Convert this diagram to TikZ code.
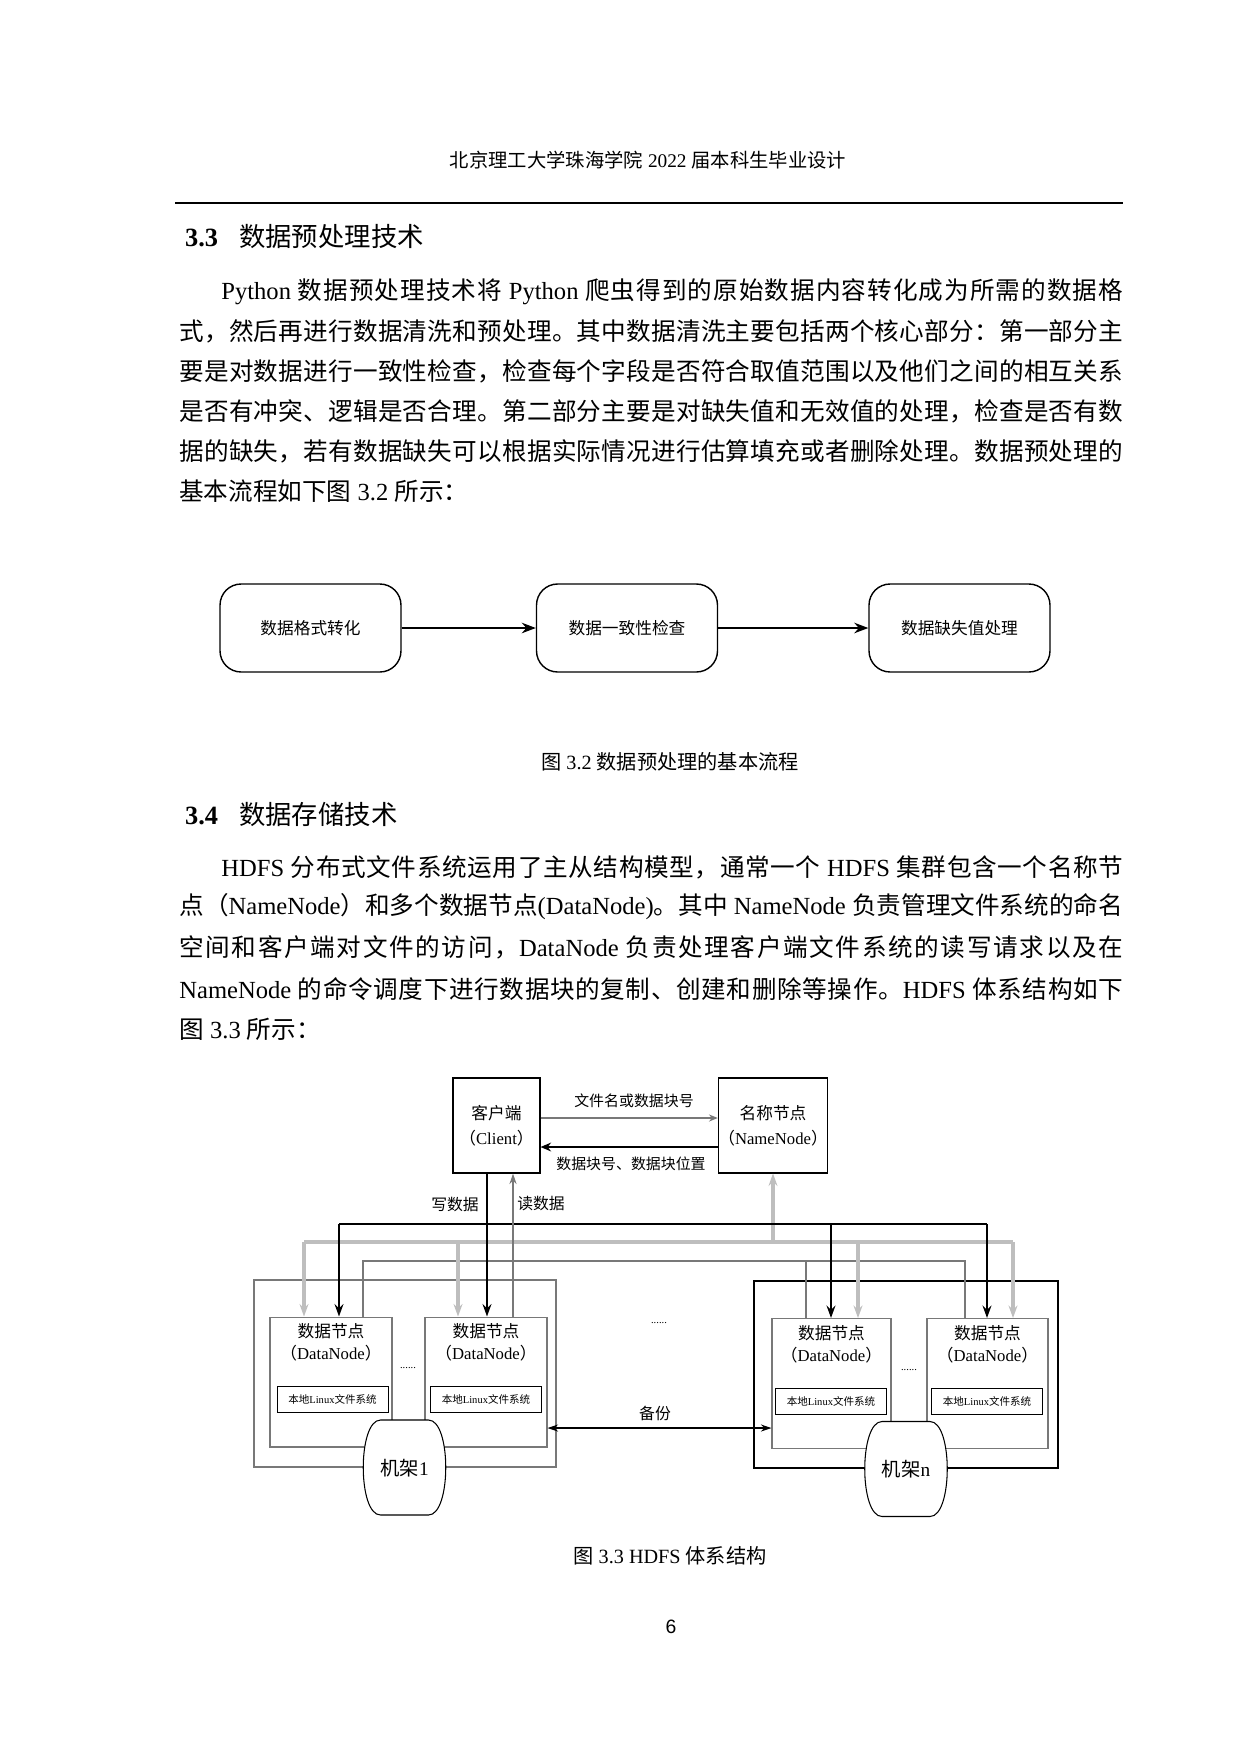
\documentclass[tikz,border=0pt]{standalone}
\usepackage{fontspec}
\setmainfont{Liberation Serif}
\newfontfamily\cjkfont{Noto Sans CJK SC}
\newfontfamily\latfont{Liberation Serif}
\newfontfamily\sansf{Liberation Sans}
\newXeTeXintercharclass\CJKcls
\count255="4E00
\loop \XeTeXcharclass\count255=\CJKcls \ifnum\count255<"9FFF \advance\count255 1 \repeat
\count255="3000
\loop \XeTeXcharclass\count255=\CJKcls \ifnum\count255<"303F \advance\count255 1 \repeat
\count255="FF00
\loop \XeTeXcharclass\count255=\CJKcls \ifnum\count255<"FFEF \advance\count255 1 \repeat
\XeTeXinterchartoks 0 \CJKcls={\cjkfont}
\XeTeXinterchartoks 4095 \CJKcls={\cjkfont}
\XeTeXinterchartoks \CJKcls 0={\latfont}
\XeTeXinterchartoks \CJKcls 4095={\latfont}
\XeTeXinterchartoks \CJKcls \CJKcls={\hskip0pt plus 3pt\relax}
\XeTeXinterchartokenstate=1
\usetikzlibrary{arrows.meta}
\newcommand\jline[1]{\hbox to 18.88cm{#1}}
\newcommand\jlinei[1]{\hbox to 18.04cm{#1}}
\newcommand\barrel[2]{% center x, center y
  \draw[fill=white,line width=0.6pt] (#1-24,#2-47.5) -- (#1+24,#2-47.5) .. controls (#1+47,#2-47.5) and (#1+47,#2+47.5) .. (#1+24,#2+47.5) -- (#1-24,#2+47.5) .. controls (#1-47,#2+47.5) and (#1-47,#2-47.5) .. (#1-24,#2-47.5) -- cycle;}
\definecolor{lg}{RGB}{190,190,190}
\definecolor{mg}{RGB}{120,120,120}
\tikzset{
 body/.style={anchor=west,inner sep=0pt,font=\fontsize{14}{16}\selectfont},
 fbox/.style={draw,rounded corners=12pt,line width=0.8pt,minimum width=3.62cm,minimum height=1.76cm,font=\fontsize{9.5}{11}\selectfont},
 box/.style={draw,line width=0.6pt,align=center,minimum height=1.9cm,font=\fontsize{9.5}{14}\selectfont,inner sep=0pt},
 dn/.style={draw=mg,line width=0.6pt,minimum height=2.6cm},
 lx/.style={draw,line width=0.5pt,minimum width=2.22cm,minimum height=0.52cm,font=\fontsize{6}{7}\selectfont,inner sep=0pt},
 dtxt/.style={align=center,font=\fontsize{9.5}{12.5}\selectfont,inner sep=0pt},
 lab/.style={font=\fontsize{8}{9}\selectfont,inner sep=0pt},
 blk/.style={line width=1.3pt,-{Stealth[length=7pt,width=5pt]}},
 gry/.style={lg,line width=1.8pt,-{Stealth[length=7pt,width=5pt]}},
}
\begin{document}
\begin{tikzpicture}[x=0.02cm,y=-0.02cm]
\useasboundingbox[fill=white] (0,0) rectangle (1240,1754);
% header
\node[font=\fontsize{11}{13}\selectfont] (hdr) at (648,160) {北京理工大学珠海学院 2022 届本科生毕业设计};
\draw[line width=0.6pt] (175,203) -- (1123,203);
\node[anchor=west,font=\fontsize{15}{17}\selectfont] (s33) at (179,237) {\textbf{3.3}\hskip 12pt 数据预处理技术};
\node[body] (p1) at (221,292) {\jlinei{Python 数据预处理技术将 Python 爬虫得到的原始数据内容转化成为所需的数据格}};
\node[body] (p2) at (179,331) {\jline{式，然后再进行数据清洗和预处理。其中数据清洗主要包括两个核心部分：第一部分主}};
\node[body] (p3) at (179,371) {\jline{要是对数据进行一致性检查，检查每个字段是否符合取值范围以及他们之间的相互关系}};
\node[body] (p4) at (179,411) {\jline{是否有冲突、逻辑是否合理。第二部分主要是对缺失值和无效值的处理，检查是否有数}};
\node[body] (p5) at (179,451) {\jline{据的缺失，若有数据缺失可以根据实际情况进行估算填充或者删除处理。数据预处理的}};
\node[body] (p6) at (179,491) {基本流程如下图 3.2 所示：};
% flowchart
\node[fbox] (f1) at (310.5,628) {数据格式转化};
\node[fbox] (f2) at (627,628) {数据一致性检查};
\node[fbox] (f3) at (959.5,628) {数据缺失值处理};
\draw[line width=0.9pt,-{Stealth[length=8pt,width=6pt]}] (f1) -- (f2);
\draw[line width=0.9pt,-{Stealth[length=8pt,width=6pt]}] (f2) -- (f3);
\node[font=\fontsize{11.5}{13}\selectfont] (c32) at (670,762) {图 3.2 数据预处理的基本流程};
\node[anchor=west,font=\fontsize{15}{17}\selectfont] (s34) at (179,814) {\textbf{3.4}\hskip 12pt 数据存储技术};
\node[body] (q1) at (221,867) {\jlinei{HDFS 分布式文件系统运用了主从结构模型，通常一个 HDFS 集群包含一个名称节}};
\node[body] (q2) at (179,907) {\jline{点（NameNode）和多个数据节点(DataNode)。其中 NameNode 负责管理文件系统的命名}};
\node[body] (q3) at (179,947) {\jline{空间和客户端对文件的访问，DataNode 负责处理客户端文件系统的读写请求以及在}};
\node[body] (q4) at (179,989) {\jline{NameNode 的命令调度下进行数据块的复制、创建和删除等操作。HDFS 体系结构如下}};
\node[body] (q5) at (179,1029) {图 3.3 所示：};
% HDFS diagram
\node[box,minimum width=1.74cm] (client) at (496.5,1125.5) {客户端\\（Client）};
\node[box,minimum width=2.08cm] (name) at (773,1125.5) {名称节点\\（NameNode）};
\coordinate (ya) at (0,1118);
\coordinate (yb) at (0,1147);
\draw[mg,line width=0.7pt,-{Stealth[length=5pt,width=4pt]}] (client.east |- ya) -- (name.west |- ya);
\draw[line width=1.1pt,-{Stealth[length=6pt,width=5pt]}] (name.west |- yb) -- (client.east |- yb);
\node[lab,font=\fontsize{8.5}{9}\selectfont] (la) at (634,1101) {文件名或数据块号};
\node[lab,font=\fontsize{8.5}{9}\selectfont] (lb) at (631,1164) {数据块号、数据块位置};
% racks
\draw[mg,line width=0.7pt] (254,1280) rectangle (556,1467);
\draw[line width=0.8pt] (754,1281) rectangle (1058,1468);
\node[dn,minimum width=2.44cm] (dn1) at (331,1382) {};
\node[dn,minimum width=2.44cm] (dn2) at (486,1382) {};
\node[dn,minimum width=2.38cm] (dn3) at (831.5,1383.5) {};
\node[dn,minimum width=2.42cm] (dn4) at (987.5,1383.5) {};
\foreach \n/\x/\y in {dn1/331/1342,dn2/486/1342,dn3/831.5/1344,dn4/987.5/1344}{
  \node[dtxt] (t\n) at (\x,\y) {数据节点\\（DataNode）};
}
\node[lx] (l1) at (332.5,1399) {本地Linux文件系统};
\node[lx] (l2) at (486,1399) {本地Linux文件系统};
\node[lx] (l3) at (831,1401) {本地Linux文件系统};
\node[lx] (l4) at (987,1401) {本地Linux文件系统};
\node[lab,font=\fontsize{6}{7}\selectfont] (d1) at (408,1368) {......};
\node[lab,font=\fontsize{6}{7}\selectfont] (d2) at (659,1323) {......};
\node[lab,font=\fontsize{6}{7}\selectfont] (d3) at (909,1370) {......};
% buses
\coordinate (gr1) at (304,1242); \coordinate (gr2) at (458,1242);
\coordinate (gr3) at (858,1242); \coordinate (gr4) at (1013,1242);
\coordinate (grn) at (773,1242);
\coordinate (bk1) at (339,1224); \coordinate (bk3) at (831,1224); \coordinate (bk4) at (987,1224);
\coordinate (th1) at (363,1261); \coordinate (th3) at (806,1261); \coordinate (th4) at (965,1261);
\coordinate (wr) at (487,1200); \coordinate (rd) at (513,1200);
\draw[mg,line width=0.6pt] (th1 |- dn1.north) -- (th1) -- (th4) -- (th4 |- dn4.north);
\draw[mg,line width=0.6pt] (th3) -- (th3 |- dn3.north);
\draw[lg,line width=1.8pt] (gr1) -- (gr4);
\foreach \g/\d in {gr1/dn1,gr2/dn2,gr3/dn3,gr4/dn4}{ \draw[gry] (\g) -- (\g |- \d.north); }
\draw[gry] (grn) -- (name.south);
\draw[line width=1.3pt] (bk1) -- (bk4);
\foreach \g/\d in {bk1/dn1,bk3/dn3,bk4/dn4}{ \draw[blk] (\g) -- (\g |- \d.north); }
\draw[blk] (wr |- client.south) -- (wr |- dn2.north);
\draw[mg,line width=0.7pt,-{Stealth[length=6pt,width=4pt]}] (rd |- dn2.north) -- (rd |- client.south);
\node[lab,font=\fontsize{9}{10}\selectfont] (wl) at (455,1204) {写数据};
\node[lab,font=\fontsize{9}{10}\selectfont] (rl) at (541,1204) {读数据};
% backup
\coordinate (bu) at (0,1428);
\draw[line width=0.7pt,{Stealth[length=6pt,width=4pt]}-{Stealth[length=6pt,width=4pt]}] (dn2.east |- bu) -- (dn3.west |- bu);
\node[lab,font=\fontsize{9}{10}\selectfont] (bl) at (655,1413) {备份};
% rack barrels
\barrel{404.5}{1467.5}
\barrel{906}{1469}
\node[font=\fontsize{11}{12}\selectfont] (r1) at (404.5,1468) {机架1};
\node[font=\fontsize{11}{12}\selectfont] (rn) at (906,1469) {机架n};
\node[font=\fontsize{11.5}{13}\selectfont] (c33) at (670,1556) {图 3.3 HDFS 体系结构};
\node[font=\sansf\fontsize{11}{13}\selectfont] (pg) at (671,1627) {6};
\end{tikzpicture}
\end{document}
